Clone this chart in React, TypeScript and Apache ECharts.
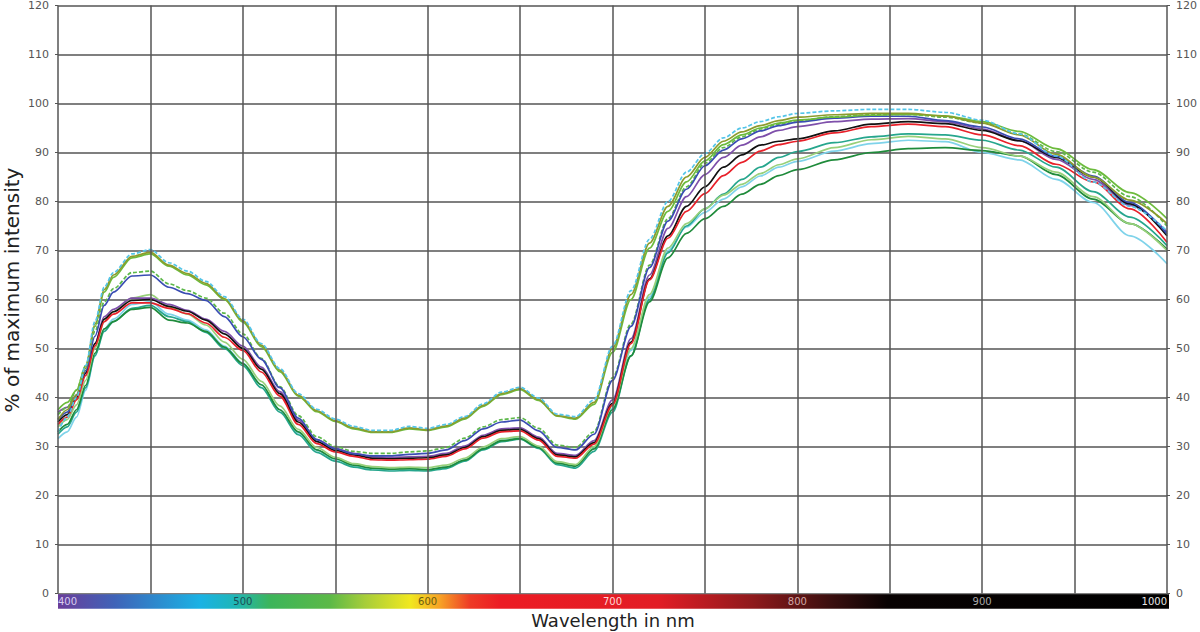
import React, { useEffect, useRef } from "react";
import * as echarts from "echarts";

const wavelengths = [400,405,410,415,420,425,430,440,450,460,470,480,490,500,510,520,530,540,550,560,570,580,590,600,610,620,630,640,650,660,670,680,690,700,710,720,730,740,750,760,770,780,790,800,820,840,860,880,900,920,940,960,980,1000];

const olive = [35.5,37.5,40.5,46,55,62,65,68.8,69.6,67,65.3,63.3,60.2,55.7,50.7,45.6,40.5,37.3,35.3,33.8,33,33,33.8,33.4,34.2,35.8,38.4,40.8,41.8,39.6,36.3,35.8,39,50,61,71.5,79,85,89,92.3,94.2,95.5,96.5,97.2,97.7,98,98,97.4,96,93.6,89.6,85,80.3,75.5];
const cyanDash = [33,36,40,46.5,55.5,62.5,65.5,69.3,70.2,67.5,65.8,63.7,60.6,56,51,45.9,40.8,37.6,35.6,34.1,33.3,33.3,34.1,33.7,34.5,36.1,38.7,41.1,42.1,39.9,36.6,36.1,39.5,50.5,61.8,72.3,80,86,89.8,93,95,96.3,97.3,98,98.5,98.8,98.8,98.2,96.6,93.8,89.3,84,79,74];
const greenUpper = [37.5,39,41.5,46.5,54.5,61.5,64.5,68.5,69.3,66.8,65,63,60,55.4,50.4,45.3,40.3,37.1,35.1,33.6,32.9,32.9,33.6,33.3,34,35.6,38.2,40.6,41.6,39.4,36.2,35.6,38.6,49.2,60,70.5,78,84,88.3,91.6,93.6,95,96,96.6,97.2,97.6,97.8,97.5,96.3,94.3,90.8,86.5,81.8,76.5];
const blue = [35.5,37,40.5,45.5,52.5,58.8,61.5,64.8,65,62.5,61.2,59.8,56.5,52.4,47.8,42,35.8,31.4,29.5,28.5,28.1,28.1,28.4,28.6,29.3,31.2,33.6,35,35.4,33.2,29.8,29.3,32.5,43.5,54.5,66.5,76,82.5,87.3,90.5,92.8,94.4,95.5,96.2,97,97.4,97.4,96.5,95.2,92.8,89.2,85.2,79.8,73.4];
const greenDash = [36.5,38,41.5,46.5,53.5,59.5,62.2,65.5,65.8,63.2,61.8,60.3,57.2,53,48,42.2,36.3,32,30,29,28.6,28.6,28.9,29.1,29.8,31.7,34,35.5,35.9,33.7,30.3,29.8,33,44,55,67,76.5,83,87.8,91,93.2,94.8,95.8,96.5,97.3,97.7,97.8,97.2,96,93.8,90.2,86,81,75];
const red = [34.5,36,39.5,44.5,50.5,55.5,57,59.3,59.3,58.2,57.1,55.2,52.3,49.6,45.2,40.3,34.5,30.6,28.9,28,27.3,27.2,27.3,27.4,28,29.5,31.7,33,33.2,31.3,28,27.6,30.5,38.5,51,64,72.5,78,81.6,85.3,88,90.3,91.6,92.3,94,95.3,95.8,95.3,93.6,91.4,87.6,84,78.5,71.7];
const black = [35,36.5,40,45,51,56,57.5,59.8,60,58.6,57.6,55.8,53,50,45.8,40.8,35,31,29.2,28.3,27.6,27.5,27.6,27.7,28.3,29.8,32,33.3,33.5,31.6,28.3,27.9,30.8,38.8,51.3,64.2,73,79,83,87,89.5,91.5,92.3,92.8,94.4,95.8,96.3,95.9,94.5,92.4,89,85,79.5,73];
const purple = [37,38,40.5,45,51,56.5,58,60.3,60.3,59,57.8,56,53.5,50.5,46.2,41.2,35.4,31.4,29.6,28.6,27.9,27.8,27.9,28,28.6,30.1,32.3,33.6,33.8,31.9,28.6,28.2,31.2,39.5,52,65,74.5,81,85.5,89,91.5,93.2,94.5,95.3,96.3,96.8,96.9,96.3,94.8,92.4,88.6,84.5,79.2,73.8];
const darkGreen = [33,34.5,37.5,42.5,49,54,55.5,58,58.4,55.8,55.2,53.5,50.3,46.9,42.6,37.5,33,29.3,27.5,26.2,25.6,25.4,25.5,25.3,25.8,27.2,29.5,31.2,31.6,29.8,26.6,26,29.5,37.5,48.5,59.5,68.5,73.5,76.5,79,81.5,83.5,85.3,86.5,88.5,90,90.8,91,90.4,89.3,85.5,80.5,75.5,70.3];
const teal = [32.5,34,37,42,48.5,53.5,55.5,58.2,58.8,56.5,55.5,53.3,50,46.5,42,37,32.4,28.8,27,25.8,25.2,25,25.1,25,25.5,27,29.3,31,31.5,29.6,26.3,25.6,29,37,48.5,60,69.5,75,78.5,81.5,84.5,87,89,90.2,92,93.2,93.8,93.6,92.5,90.5,87,82,76.8,71];
const lightCyan = [31.6,33,36,41.5,48.5,54,56,59,59.5,57,55.8,53.8,50.5,47,42.6,37.5,32.8,29.2,27.4,26.1,25.5,25.3,25.4,25.3,25.8,27.3,29.6,31.3,31.8,29.9,26.6,26,29.6,37.8,49.6,60.5,70,74.8,77.8,80.5,83,85.2,87,88.2,90.3,91.8,92.5,92.2,90,88.5,84.5,79.8,73,67.3];
const lightGreen = [34,35.5,38.5,43.5,50,55.5,57.5,60.3,61,58.5,57,54.8,51.3,47.8,43.3,38.3,33.5,29.8,27.8,26.5,25.9,25.7,25.8,25.7,26.2,27.6,29.9,31.6,32,30.1,26.9,26.3,30,38.3,50,61,70.5,75.5,78.5,81.3,83.5,85.7,87.5,88.7,91,92.6,93.3,92.8,91,89.3,86,81,75.5,70];

const seriesDefs = [
  { name: "lightCyan", data: lightCyan, color: "#7fd3ea", dashed: false },
  { name: "teal", data: teal, color: "#26a68d", dashed: false },
  { name: "darkGreen", data: darkGreen, color: "#1f8b3b", dashed: false },
  { name: "lightGreen", data: lightGreen, color: "#98d07a", dashed: false },
  { name: "purple", data: purple, color: "#7e4faa", dashed: false },
  { name: "black", data: black, color: "#111111", dashed: false },
  { name: "red", data: red, color: "#e8212a", dashed: false },
  { name: "greenDash", data: greenDash, color: "#5db84a", dashed: true },
  { name: "blue", data: blue, color: "#3a4db3", dashed: false },
  { name: "greenUpper", data: greenUpper, color: "#6cbb3c", dashed: false },
  { name: "olive", data: olive, color: "#8c9b2c", dashed: false },
  { name: "cyanDash", data: cyanDash, color: "#54c5e8", dashed: true },
];

const barLabels = ["400", "500", "600", "700", "800", "900", "1000"];
const barLabelColors = ["#d8ccf0", "#1d4d55", "#6a5a10", "#ffd6d6", "#d0a6a6", "#a8a8a8", "#e6e6e6"];
const yTicks = { min: 0, max: 120, interval: 10 };

export default function App() {
  const ref = useRef<HTMLDivElement>(null);
  useEffect(() => {
    if (!ref.current) return;
    const chart = echarts.init(ref.current, undefined, { renderer: "svg" });
    const left = 58, right = 31, top = 5, bottom = 38.5;
    const plotW = 1200 - left - right;
    const plotBottom = 632 - bottom;
    const gradient = new echarts.graphic.LinearGradient(0, 0, 1, 0, [
      { offset: 0, color: "#6a3d9a" },
      { offset: 0.051, color: "#3f63b8" },
      { offset: 0.128, color: "#1ab2e4" },
      { offset: 0.159, color: "#1fb6b8" },
      { offset: 0.191, color: "#3cb55a" },
      { offset: 0.245, color: "#5cb947" },
      { offset: 0.276, color: "#a6cd3a" },
      { offset: 0.317, color: "#f1e81f" },
      { offset: 0.344, color: "#f7a125" },
      { offset: 0.371, color: "#ee3a26" },
      { offset: 0.398, color: "#ec1c24" },
      { offset: 0.54, color: "#e21d25" },
      { offset: 0.626, color: "#8e1a1c" },
      { offset: 0.696, color: "#3a0f0f" },
      { offset: 0.747, color: "#080202" },
      { offset: 1, color: "#000000" },
    ]);
    const yAxisBase = {
      type: "value",
      min: yTicks.min,
      max: yTicks.max,
      interval: yTicks.interval,
      axisLine: { show: false },
      axisTick: { show: true, length: 3, lineStyle: { color: "#555", width: 1 } },
      axisLabel: { margin: 9, fontSize: 11, color: "#555", fontFamily: "DejaVu Sans" },
    };
    chart.setOption({
      animation: false,
      grid: { left, right, top, bottom, containLabel: false },
      xAxis: {
        type: "value",
        min: 400,
        max: 1000,
        interval: 50,
        z: 10,
        axisLine: { show: false },
        axisTick: { show: false },
        splitLine: { show: true, lineStyle: { color: "#555", width: 1.5 } },
        axisLabel: {
          show: true,
          margin: 3,
          fontSize: 10,
          fontFamily: "DejaVu Sans",
          verticalAlign: "top",
          showMinLabel: true,
          showMaxLabel: true,
          alignMinLabel: "left",
          alignMaxLabel: "right",
          formatter: (v: number) => (Number(v) % 100 === 0 ? String(v) : ""),
          color: (v: any) => {
            const i = barLabels.indexOf(String(Number(v)));
            return i >= 0 ? barLabelColors[i] : "#fff";
          },
        },
      },
      yAxis: [
        { ...yAxisBase, position: "left", splitLine: { show: true, lineStyle: { color: "#555", width: 1.5 } } },
        { ...yAxisBase, position: "right", splitLine: { show: false } },
      ],
      graphic: [
        {
          type: "rect",
          z: 1,
          shape: { x: left, y: plotBottom + 0.8, width: plotW, height: 14.5 },
          style: { fill: gradient },
        },
        {
          type: "text",
          x: 613,
          y: 620,
          style: {
            text: "Wavelength in nm",
            fontSize: 18,
            fontFamily: "DejaVu Sans",
            fill: "#222",
            textAlign: "center",
            textVerticalAlign: "middle",
          },
        },
        {
          type: "text",
          x: 12,
          y: 290,
          rotation: Math.PI / 2,
          style: {
            text: "% of maximum intensity",
            fontSize: 20,
            fontFamily: "DejaVu Sans",
            fill: "#222",
            textAlign: "center",
            textVerticalAlign: "middle",
          },
        },
      ],
      series: seriesDefs.map((s) => ({
        name: s.name,
        type: "line",
        yAxisIndex: 0,
        showSymbol: false,
        smooth: 0.3,
        smoothMonotone: "x",
        data: wavelengths.map((w, i) => [w, s.data[i]]),
        lineStyle: { color: s.color, width: 1.7, type: s.dashed ? [4, 2] : "solid" },
        itemStyle: { color: s.color },
      })),
    });
    return () => chart.dispose();
  }, []);
  return (
    <div
      ref={ref}
      style={{ position: "fixed", left: 0, top: 0, width: 1200, height: 632, background: "#fff" }}
    />
  );
}
